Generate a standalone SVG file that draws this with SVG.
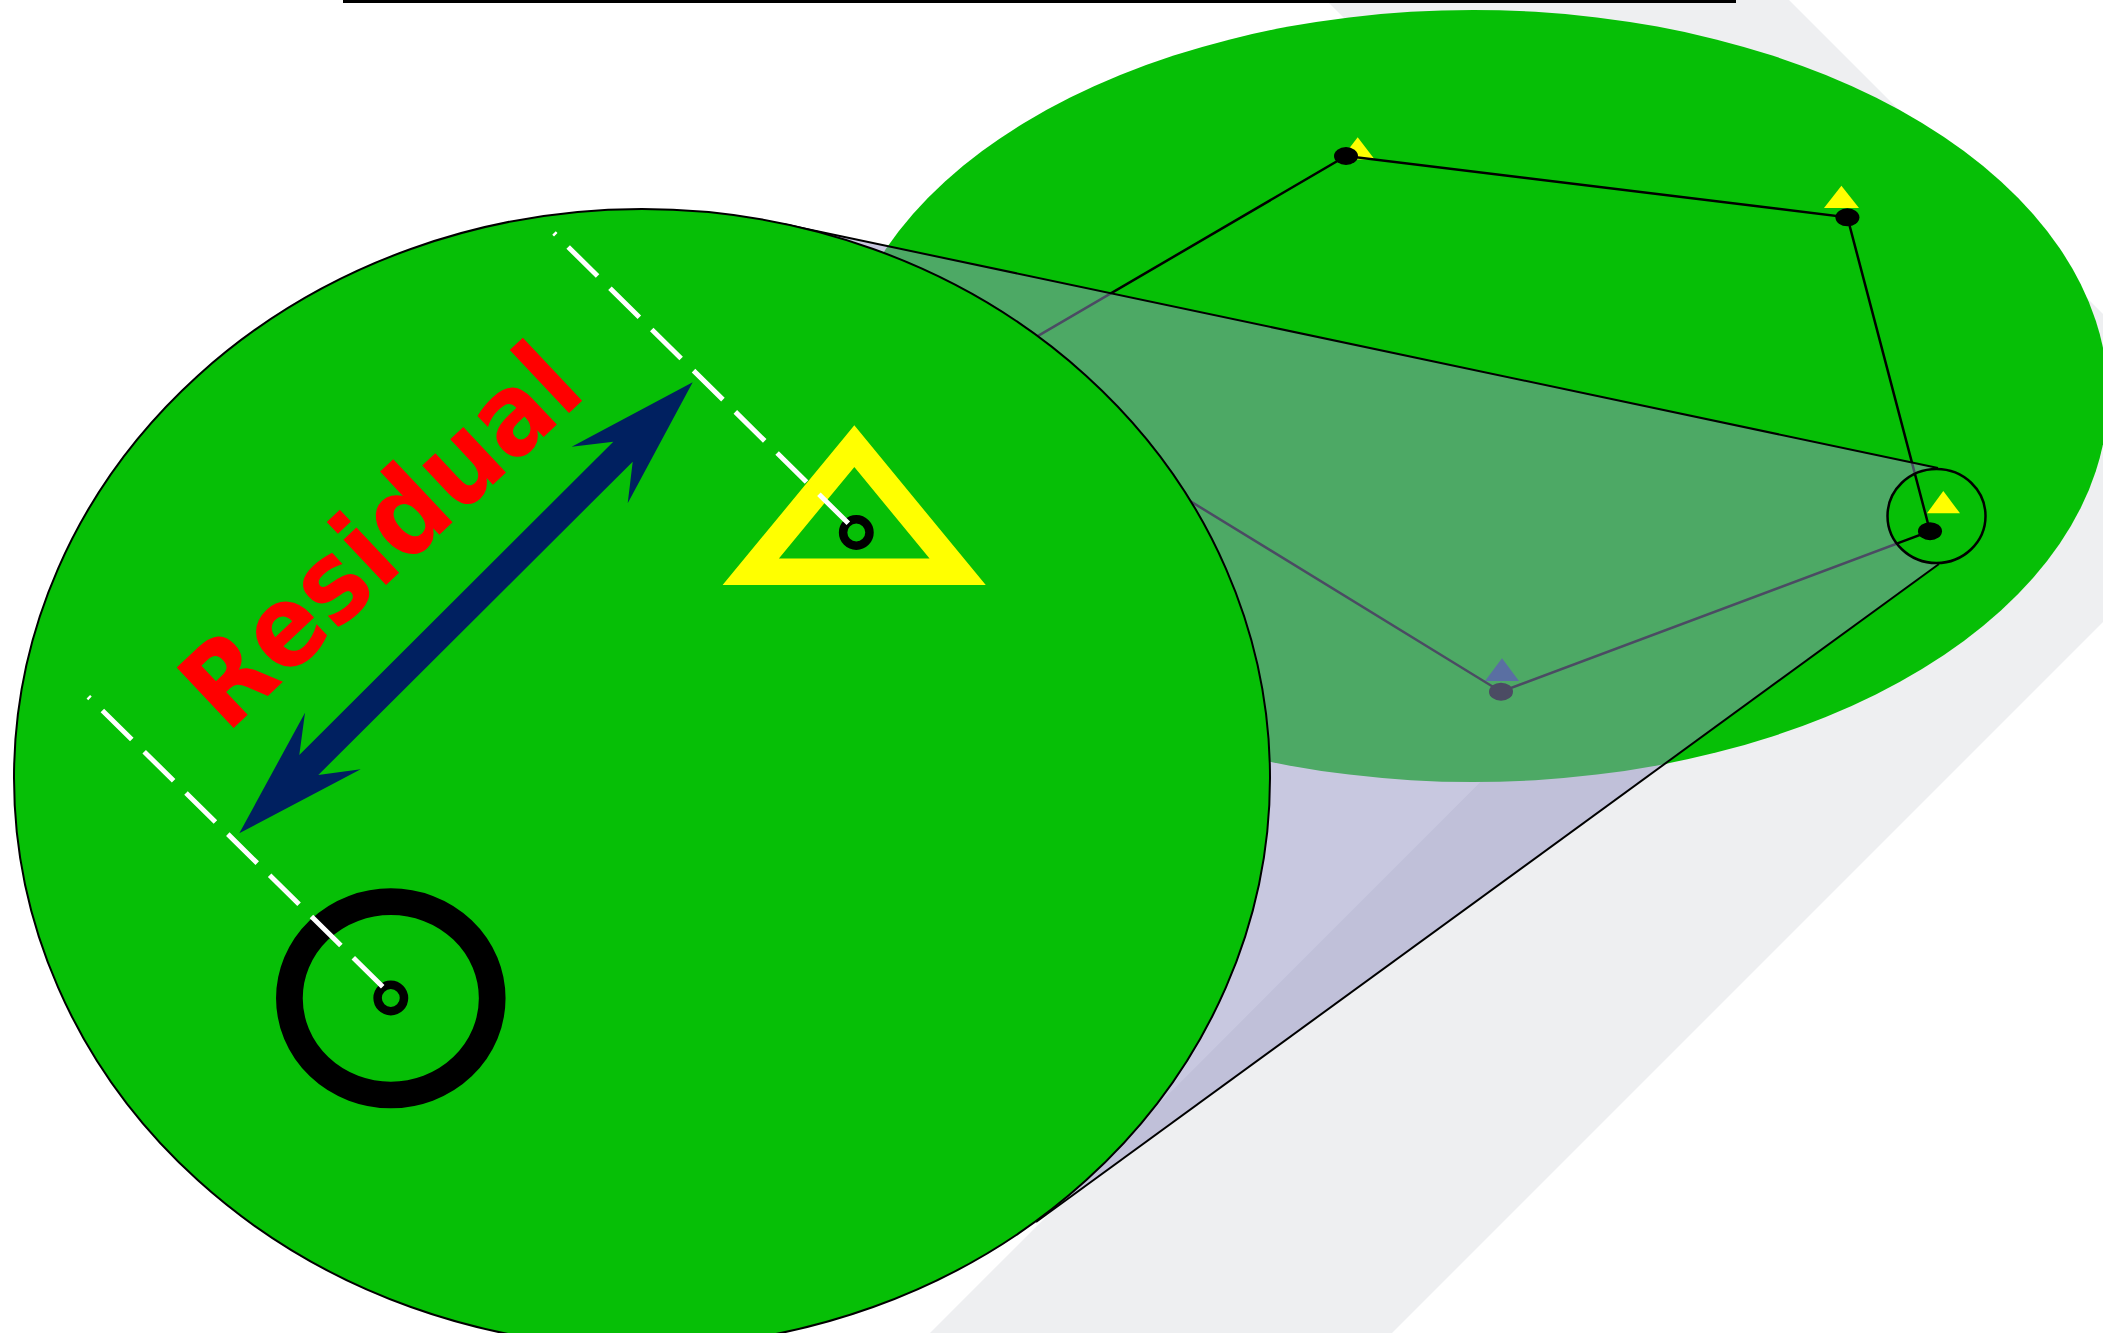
<svg xmlns="http://www.w3.org/2000/svg" width="2103" height="1333" viewBox="0 0 2103 1333">
<style>
.green{fill:#06bf06}
.edge{stroke:#000;stroke-width:2.5;fill:none}
.tri{fill:#ffff00}
.dot{fill:#000}
.ring{fill:none;stroke:#000}
.dash{stroke:#fff;stroke-width:5;stroke-dasharray:41.3 17.4;fill:none}
.cone{fill:#9393c3;fill-opacity:0.51}
.coneline{stroke:#000;stroke-width:2;fill:none}
</style>
<defs>
<clipPath id="lensclip"><ellipse cx="1936.5" cy="516" rx="49" ry="47"/></clipPath>
</defs>
<rect width="2103" height="1333" fill="#fff"/>
<g id="shadow-band">
<polygon points="1326,0 1789,0 2257,468 1392,1333 930,1333 1794,468" fill="#eeeff1"/>
</g>
<g id="far-view">
<ellipse cx="1473" cy="396" rx="635" ry="386" class="green"/>
</g>
<g id="node-n1"><polygon class="tri" points="1357.7,137.3 1340.7,159.5 1374.7,159.5"/></g>
<g id="node-n2"><polygon class="tri" points="1841.4,185.7 1824,208 1859,208"/></g>
<g id="node-n4-tri"><polygon points="1502,658.3 1485,681 1519,681" fill="#204a80"/></g>
<g id="connectors">
<polyline class="edge" points="978,371 1346,156 1847.4,217.3 1930,531.2 1501,691.7 978,371"/>
</g>
<g id="node-dots">
<ellipse class="dot" cx="1346" cy="156" rx="12" ry="9"/>
<ellipse class="dot" cx="1847.4" cy="217.3" rx="12" ry="9"/>
<ellipse class="dot" cx="1501" cy="691.7" rx="12" ry="9"/>
</g>
<g id="cone">
<polygon class="cone" points="783,224 1938,468 1986,516 1939,564 1036,1222 642,778"/>
<line class="coneline" x1="783" y1="224" x2="1938" y2="468"/>
<line class="coneline" x1="1036" y1="1222" x2="1939" y2="564"/>
</g>
<g id="lens">
<g clip-path="url(#lensclip)">
<ellipse cx="1936.5" cy="516" rx="49" ry="47" class="green"/>
<polyline class="edge" points="1847.4,217.3 1930,531.2 1501,691.7"/>
<polygon class="tri" points="1943.3,491 1927,513.3 1960,513.3"/>
<ellipse class="dot" cx="1930" cy="531.2" rx="12" ry="9"/>
</g>
<ellipse cx="1936.5" cy="516" rx="49" ry="47" fill="none" stroke="#000" stroke-width="2.5"/>
</g>
<g id="magnified-view">
<ellipse cx="642" cy="778" rx="628" ry="569" class="green" stroke="#000" stroke-width="2"/>
<ellipse class="ring" cx="390.8" cy="998.3" rx="101.4" ry="96.7" stroke-width="26.7"/>
<polygon points="854.3,446.2 750.7,571.8 957.7,571.8" fill="none" stroke="#ffff00" stroke-width="26.5" stroke-miterlimit="10"/>
<circle class="ring" cx="390.8" cy="998" r="13.2" stroke-width="8.5"/>
<circle class="ring" cx="856.3" cy="532.5" r="13.2" stroke-width="8.5"/>
<line class="dash" x1="382.7" y1="986.7" x2="88.3" y2="696.7"/>
<line class="dash" x1="848.3" y1="523.3" x2="554" y2="233"/>
<polygon fill="#002060" points="692.7,382.3 571.7,446.7 613.3,441.7 299.3,755 305,712.7 239.3,833.3 360.7,769.3 318.3,775 632.7,461.7 627.7,503.3"/>
<text transform="translate(226.8,734.5) rotate(-43.2)" font-family="'DejaVu Sans', sans-serif" font-weight="bold" font-size="114" textLength="496" lengthAdjust="spacingAndGlyphs" fill="#ff0000">Residual</text>
</g>
<g id="top-rule">
<line x1="343" y1="1.5" x2="1736" y2="1.5" stroke="#000" stroke-width="3"/>
</g>
</svg>
